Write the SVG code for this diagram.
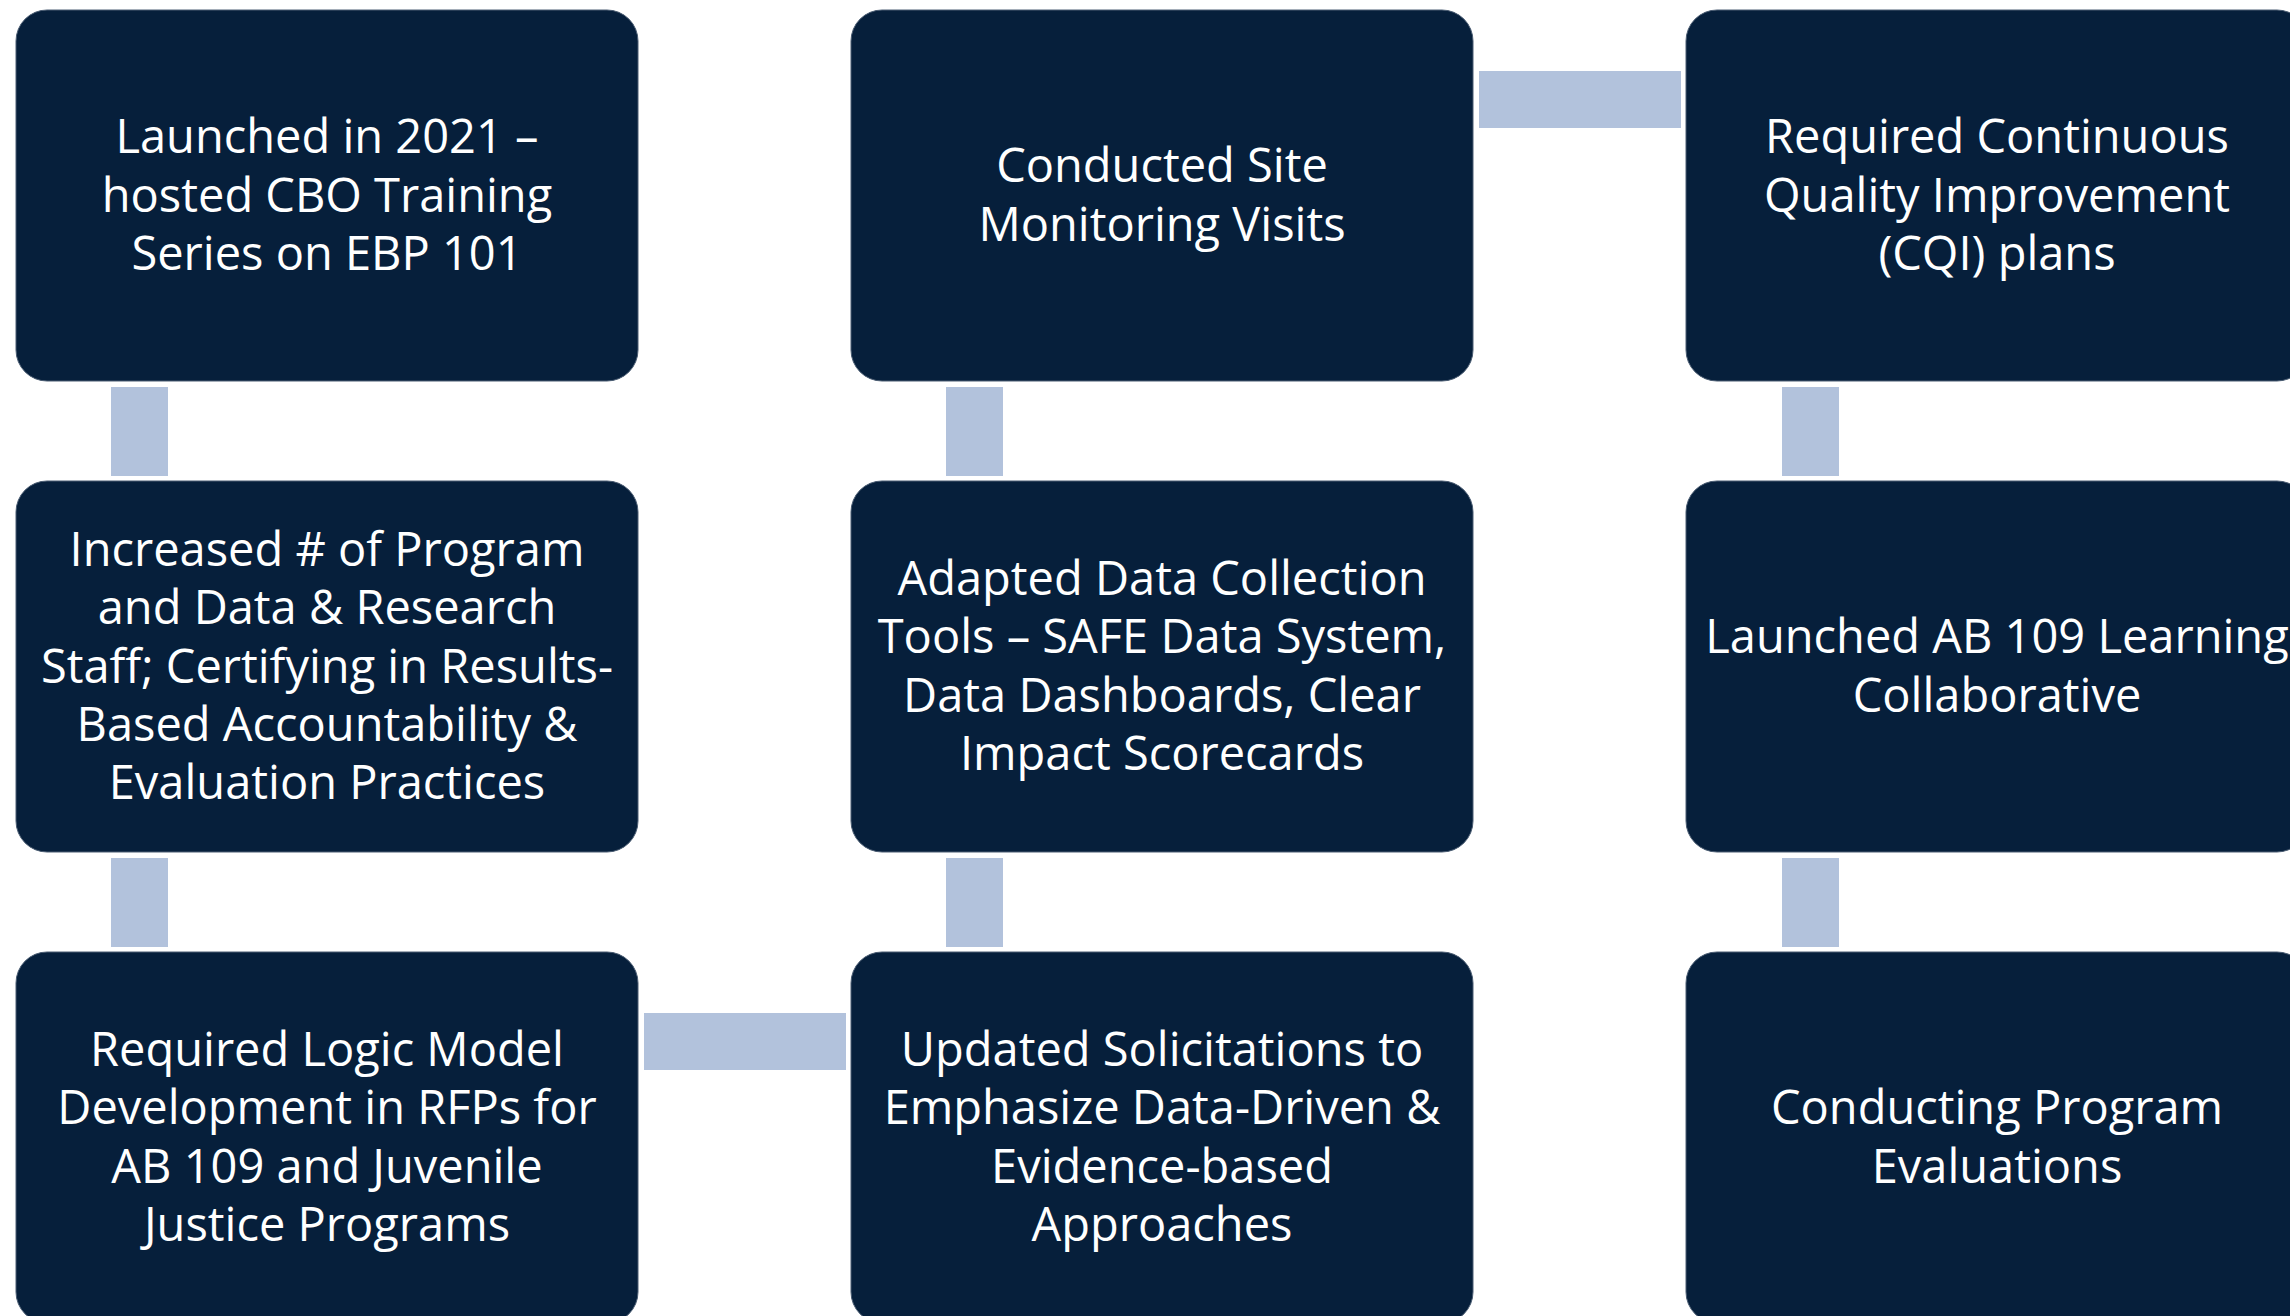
<svg xmlns="http://www.w3.org/2000/svg" width="2290" height="1316" viewBox="0 0 2290 1316">
<style>
.box{fill:#061f3b;stroke:#4b5d73;stroke-width:1}
.conn{fill:#b2c2dc}
.t{font-family:"Open Sans","Noto Sans",sans-serif;font-size:47px;fill:#ffffff;text-anchor:middle}
</style>
<rect width="2290" height="1316" fill="#ffffff"/>
<g id="connectors">
<rect class="conn" x="111" y="387" width="57" height="89"/>
<rect class="conn" x="111" y="858" width="57" height="89"/>
<rect class="conn" x="946" y="387" width="57" height="89"/>
<rect class="conn" x="946" y="858" width="57" height="89"/>
<rect class="conn" x="1782" y="387" width="57" height="89"/>
<rect class="conn" x="1782" y="858" width="57" height="89"/>
<rect class="conn" x="644" y="1013" width="202" height="57"/>
<rect class="conn" x="1479" y="71" width="202" height="57"/>
</g>
<g id="n1">
<rect class="box" x="16" y="10" width="622" height="371" rx="31"/>
<text class="t" x="327"><tspan x="327" y="153.1">Launched in 2021 –</tspan><tspan x="327" y="211.5">hosted CBO Training</tspan><tspan x="327" y="269.9">Series on EBP 101</tspan></text>
</g>
<g id="n2">
<rect class="box" x="16" y="481" width="622" height="371" rx="31"/>
<text class="t" x="327"><tspan x="327" y="565.7">Increased # of Program</tspan><tspan x="327" y="624.1">and Data &amp; Research</tspan><tspan x="327" y="682.5">Staff; Certifying in Results-</tspan><tspan x="327" y="740.9">Based Accountability &amp;</tspan><tspan x="327" y="799.3">Evaluation Practices</tspan></text>
</g>
<g id="n3">
<rect class="box" x="16" y="952" width="622" height="371" rx="31"/>
<text class="t" x="327"><tspan x="327" y="1065.9">Required Logic Model</tspan><tspan x="327" y="1124.3">Development in RFPs for</tspan><tspan x="327" y="1182.7">AB 109 and Juvenile</tspan><tspan x="327" y="1241.1">Justice Programs</tspan></text>
</g>
<g id="n4">
<rect class="box" x="851" y="10" width="622" height="371" rx="31"/>
<text class="t" x="1162"><tspan x="1162" y="182.3">Conducted Site</tspan><tspan x="1162" y="240.7">Monitoring Visits</tspan></text>
</g>
<g id="n5">
<rect class="box" x="851" y="481" width="622" height="371" rx="31"/>
<text class="t" x="1162"><tspan x="1162" y="594.9">Adapted Data Collection</tspan><tspan x="1162" y="653.3">Tools – SAFE Data System,</tspan><tspan x="1162" y="711.7">Data Dashboards, Clear</tspan><tspan x="1162" y="770.1">Impact Scorecards</tspan></text>
</g>
<g id="n6">
<rect class="box" x="851" y="952" width="622" height="371" rx="31"/>
<text class="t" x="1162"><tspan x="1162" y="1065.9">Updated Solicitations to</tspan><tspan x="1162" y="1124.3">Emphasize Data-Driven &amp;</tspan><tspan x="1162" y="1182.7">Evidence-based</tspan><tspan x="1162" y="1241.1">Approaches</tspan></text>
</g>
<g id="n7">
<rect class="box" x="1686" y="10" width="622" height="371" rx="31"/>
<text class="t" x="1997"><tspan x="1997" y="153.1">Required Continuous</tspan><tspan x="1997" y="211.5">Quality Improvement</tspan><tspan x="1997" y="269.9">(CQI) plans</tspan></text>
</g>
<g id="n8">
<rect class="box" x="1686" y="481" width="622" height="371" rx="31"/>
<text class="t" x="1997"><tspan x="1997" y="653.3">Launched AB 109 Learning</tspan><tspan x="1997" y="711.7">Collaborative</tspan></text>
</g>
<g id="n9">
<rect class="box" x="1686" y="952" width="622" height="371" rx="31"/>
<text class="t" x="1997"><tspan x="1997" y="1124.3">Conducting Program</tspan><tspan x="1997" y="1182.7">Evaluations</tspan></text>
</g>
</svg>
